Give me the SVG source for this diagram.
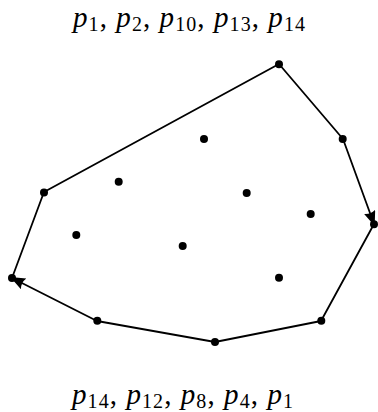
<svg xmlns="http://www.w3.org/2000/svg" width="378" height="412" viewBox="0 0 378 412">
<style>
.edge{fill:none;stroke:#000;stroke-width:1.8;stroke-linejoin:round}
.pt{fill:#000}
.lbl{font-family:"Liberation Serif","DejaVu Serif",serif;font-size:29px;fill:#000}
.v{font-style:italic}
.s{font-size:20px}
</style>
<defs>
<marker id="arr" markerUnits="userSpaceOnUse" markerWidth="18" markerHeight="14" refX="13" refY="6" orient="auto">
<path d="M0,0 L15,6 L0,12 Q3,6 0,0 z" fill="#000"/>
</marker>
</defs>
<rect width="378" height="412" fill="#fff"/>
<g id="connectors">
<polyline id="upper" class="edge" points="12,278 44,192 279,64 343,139 374,224" marker-end="url(#arr)"/>
<polyline id="lower" class="edge" points="374,224 321,321 215,342 97,321 12,278" marker-end="url(#arr)"/>
</g>
<g id="points">
<g id="p1"><circle class="pt" cx="12" cy="278" r="4"/></g>
<g id="p2"><circle class="pt" cx="44" cy="192.5" r="4"/></g>
<g id="p3"><circle class="pt" cx="76.3" cy="235" r="4"/></g>
<g id="p4"><circle class="pt" cx="97.3" cy="320.7" r="4"/></g>
<g id="p5"><circle class="pt" cx="118.7" cy="181.7" r="4"/></g>
<g id="p6"><circle class="pt" cx="182.7" cy="246" r="4"/></g>
<g id="p7"><circle class="pt" cx="204" cy="139" r="4"/></g>
<g id="p8"><circle class="pt" cx="215" cy="342" r="4"/></g>
<g id="p9"><circle class="pt" cx="246.7" cy="193" r="4"/></g>
<g id="p10"><circle class="pt" cx="279" cy="64.3" r="4"/></g>
<g id="p11"><circle class="pt" cx="279" cy="277.7" r="4"/></g>
<g id="p12"><circle class="pt" cx="321.3" cy="320.7" r="4"/></g>
<g id="p13"><circle class="pt" cx="342.7" cy="139" r="4"/></g>
<g id="p15"><circle class="pt" cx="310.7" cy="214" r="4"/></g>
<g id="p14"><circle class="pt" cx="374" cy="224.3" r="4"/></g>
</g>
<g id="label-top">
<text class="lbl" x="73" y="27" textLength="232" lengthAdjust="spacing"><tspan class="v">p</tspan><tspan class="s" dy="4">1</tspan><tspan dy="-4">, </tspan><tspan class="v">p</tspan><tspan class="s" dy="4">2</tspan><tspan dy="-4">, </tspan><tspan class="v">p</tspan><tspan class="s" dy="4">10</tspan><tspan dy="-4">, </tspan><tspan class="v">p</tspan><tspan class="s" dy="4">13</tspan><tspan dy="-4">, </tspan><tspan class="v">p</tspan><tspan class="s" dy="4">14</tspan></text>
</g>
<g id="label-bottom">
<text class="lbl" x="72" y="404" textLength="221" lengthAdjust="spacing"><tspan class="v">p</tspan><tspan class="s" dy="4">14</tspan><tspan dy="-4">, </tspan><tspan class="v">p</tspan><tspan class="s" dy="4">12</tspan><tspan dy="-4">, </tspan><tspan class="v">p</tspan><tspan class="s" dy="4">8</tspan><tspan dy="-4">, </tspan><tspan class="v">p</tspan><tspan class="s" dy="4">4</tspan><tspan dy="-4">, </tspan><tspan class="v">p</tspan><tspan class="s" dy="4">1</tspan></text>
</g>
</svg>
